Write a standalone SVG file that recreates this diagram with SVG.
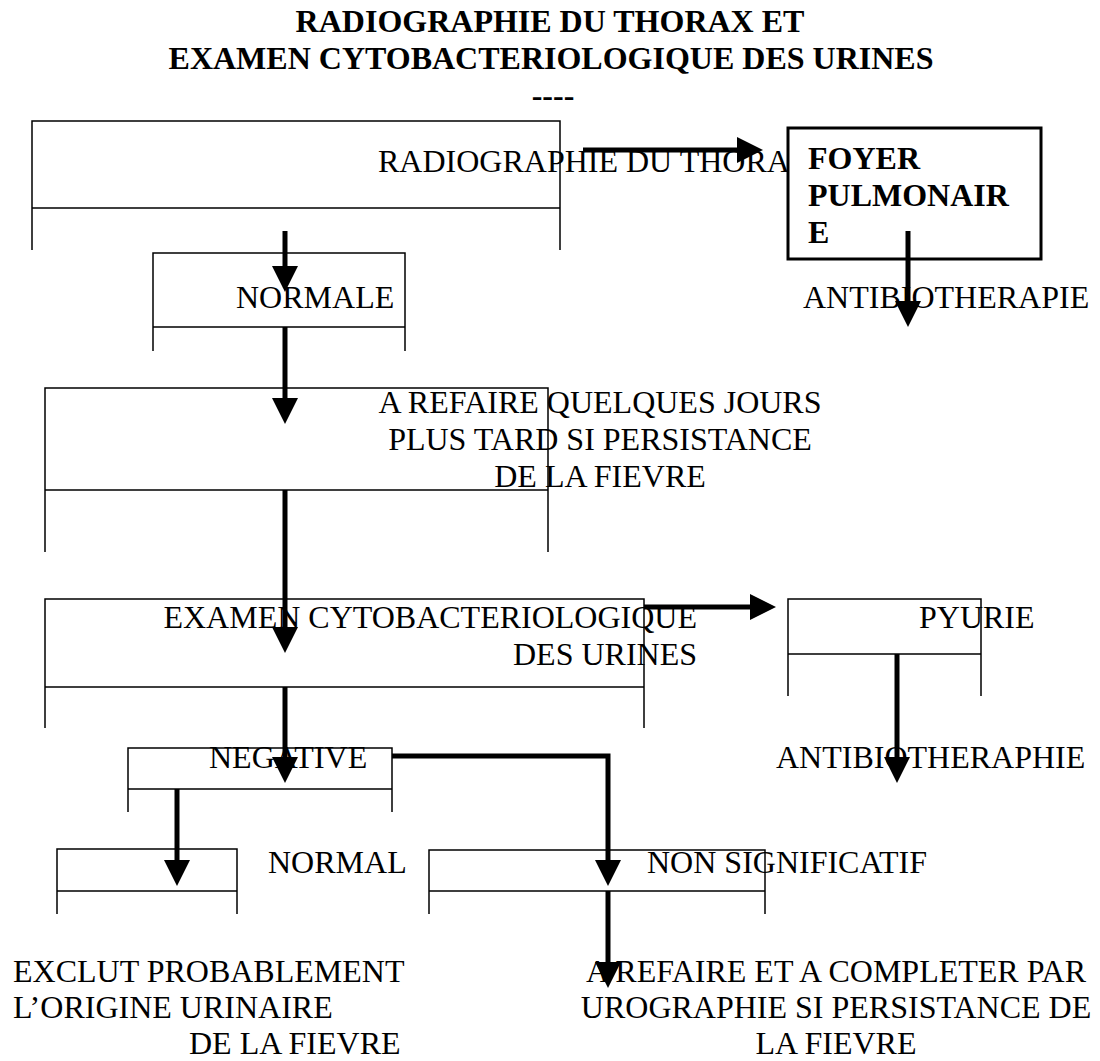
<svg xmlns="http://www.w3.org/2000/svg" width="1100" height="1061" viewBox="0 0 1100 1061">
  <style>
    .bx { fill: none; stroke: #000; stroke-width: 1.5; }
    .t { font-family: "Liberation Serif", "Times New Roman", serif; font-size: 32px; fill: #000; }
    .b { font-weight: bold; }
    .c { fill: none; stroke: #000; stroke-width: 5; }
  </style>
  <defs>
    <marker id="ah" markerUnits="userSpaceOnUse" markerWidth="27" markerHeight="27" refX="1" refY="13" orient="auto">
      <path d="M0,0 L26,13 L0,26 z" fill="#000"/>
    </marker>
  </defs>

  <rect width="1100" height="1061" fill="#fff"/>

  <!-- heading -->
  <g id="title" class="t b" text-anchor="middle">
    <text x="550" y="32">RADIOGRAPHIE DU THORAX ET</text>
    <text x="551" y="69">EXAMEN CYTOBACTERIOLOGIQUE DES URINES</text>
    <text x="553" y="106">----</text>
  </g>

  <!-- open-bottom text frames -->
  <g id="radio">
    <path class="bx" d="M32,250 V121 H560 V250 M32,208 H560"/>
    <text class="t" x="378" y="172">RADIOGRAPHIE DU THORAX</text>
  </g>

  <g id="foyer">
    <rect x="788" y="128" width="253" height="131" fill="#fff" stroke="#000" stroke-width="3"/>
    <text class="t b" x="808" y="169">FOYER</text>
    <text class="t b" x="808" y="206">PULMONAIR</text>
    <text class="t b" x="808" y="243">E</text>
  </g>

  <g id="antibio1">
    <text class="t" x="803" y="308">ANTIBIOTHERAPIE</text>
  </g>

  <g id="normale">
    <path class="bx" d="M153,351 V253 H405 V351 M153,327 H405"/>
    <text class="t" x="236" y="308">NORMALE</text>
  </g>

  <g id="refaire">
    <path class="bx" d="M45,552 V388 H548 V552 M45,490 H548"/>
    <text class="t" text-anchor="middle" x="600" y="413">A REFAIRE QUELQUES JOURS</text>
    <text class="t" text-anchor="middle" x="600" y="450">PLUS TARD SI PERSISTANCE</text>
    <text class="t" text-anchor="middle" x="600" y="487">DE LA FIEVRE</text>
  </g>

  <g id="ecbu">
    <path class="bx" d="M45,728 V599 H644 V728 M45,687 H644"/>
    <text class="t" text-anchor="end" x="697" y="628">EXAMEN CYTOBACTERIOLOGIQUE</text>
    <text class="t" text-anchor="end" x="697" y="665">DES URINES</text>
  </g>

  <g id="pyurie">
    <path class="bx" d="M788,696 V599 H981 V696 M788,654 H981"/>
    <text class="t" x="919" y="628">PYURIE</text>
  </g>

  <g id="antibio2">
    <text class="t" x="776" y="768">ANTIBIOTHERAPHIE</text>
  </g>

  <g id="negative">
    <path class="bx" d="M128,812 V748 H392 V812 M128,789 H392"/>
    <text class="t" x="209" y="768">NEGATIVE</text>
  </g>

  <g id="normal">
    <path class="bx" d="M57,914 V849 H237 V914 M57,891 H237"/>
    <text class="t" x="268" y="873">NORMAL</text>
  </g>

  <g id="nonsig">
    <path class="bx" d="M429,914 V850 H765 V914 M429,891 H765"/>
    <text class="t" x="647" y="873">NON SIGNIFICATIF</text>
  </g>

  <g id="exclut">
    <text class="t" x="13" y="982">EXCLUT PROBABLEMENT</text>
    <text class="t" x="13" y="1018">L’ORIGINE URINAIRE</text>
    <text class="t" x="189" y="1054">DE LA FIEVRE</text>
  </g>

  <g id="completer" class="t" text-anchor="middle">
    <text x="836" y="982">A REFAIRE ET A COMPLETER PAR</text>
    <text x="836" y="1018">UROGRAPHIE SI PERSISTANCE DE</text>
    <text x="836" y="1054">LA FIEVRE</text>
  </g>

  <!-- arrows: each line stops at the arrowhead base, the marker adds the point -->
  <g id="connectors">
    <line class="c" x1="583" y1="150" x2="738" y2="150" marker-end="url(#ah)"/>
    <line class="c" x1="908" y1="231" x2="908" y2="302" marker-end="url(#ah)"/>
    <line class="c" x1="285" y1="231" x2="285" y2="267" marker-end="url(#ah)"/>
    <line class="c" x1="285" y1="327" x2="285" y2="399" marker-end="url(#ah)"/>
    <line class="c" x1="285" y1="490" x2="285" y2="628" marker-end="url(#ah)"/>
    <line class="c" x1="285" y1="687" x2="285" y2="758" marker-end="url(#ah)"/>
    <line class="c" x1="644" y1="607" x2="751" y2="607" marker-end="url(#ah)"/>
    <line class="c" x1="897" y1="654" x2="897" y2="758" marker-end="url(#ah)"/>
    <line class="c" x1="177" y1="789" x2="177" y2="861" marker-end="url(#ah)"/>
    <path class="c" stroke-width="4" d="M392,756 H608 V861" marker-end="url(#ah)"/>
    <line class="c" x1="608" y1="891" x2="608" y2="963" marker-end="url(#ah)"/>
  </g>
</svg>
